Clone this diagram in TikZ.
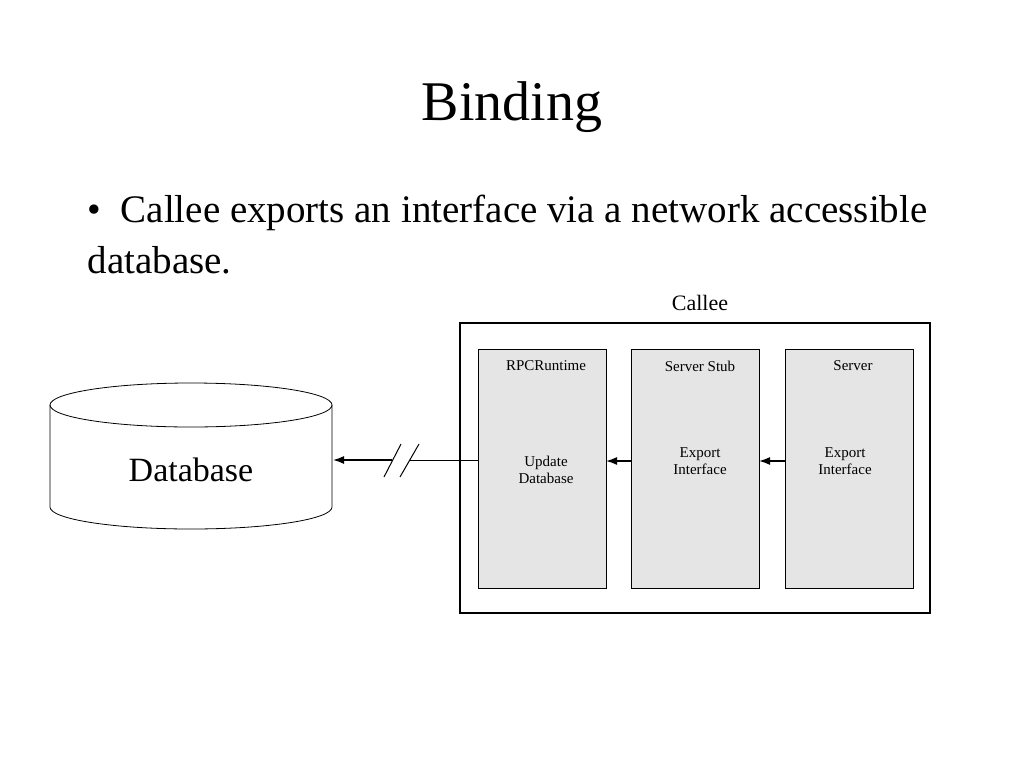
\documentclass[tikz,border=0pt]{standalone}
\usepackage{fontspec}
\setmainfont{Liberation Serif}
\usetikzlibrary{arrows.meta}
\begin{document}
\begin{tikzpicture}[x=1pt,y=-1pt,
  col/.style={draw,fill=black!10,line width=0.6pt},
  small/.style={font=\fontsize{15}{17}\selectfont,align=center},
  arr/.style={-{Latex[length=11pt,width=8pt]},line width=1.5pt}]
\useasboundingbox (0,0) rectangle (1024,768);
\node (title) at (512,107) {\fontsize{56}{62}\selectfont Binding};
\node[anchor=west] (b1) at (84,213) {\fontsize{39}{44}\selectfont •\ \ Callee exports an interface via a network accessible};
\node[anchor=west] (b2) at (84,260) {\fontsize{39}{44}\selectfont database.};
\node (callee) at (700,303) {\fontsize{22}{26}\selectfont Callee};
\draw[line width=2.5pt] (460,323) rectangle (930,613);
\draw[col] (478,349) rectangle (606,588);
\draw[col] (631,349) rectangle (759,588);
\draw[col] (785,349) rectangle (913,588);
\coordinate (r1) at (478,460); \coordinate (r1r) at (606,461);
\coordinate (s1) at (631,461); \coordinate (s1r) at (759,461);
\coordinate (v1) at (785,461);
\node[small] (l1) at (546,366) {RPCRuntime};
\node[small] (l2) at (700,366) {Server Stub};
\node[small] (l3) at (853,366) {Server};
\node[small] (m1) at (546,470) {Update\\Database};
\node[small] (m2) at (700,461) {Export\\Interface};
\node[small] (m3) at (845,461) {Export\\Interface};
% database cylinder
\draw[line width=0.8pt] (50,405) -- (50,507) arc[start angle=180,end angle=0,x radius=141,y radius=22] -- (332,405);
\draw[line width=0.8pt] (191,405) ellipse[x radius=141,y radius=22];
\node (db) at (191,470) {\fontsize{34}{38}\selectfont Database};
\coordinate (dbr) at (333,460);
\coordinate (g1) at (410,460); \coordinate (g2) at (392,460);
\draw[line width=1pt] (r1) -- (g1);
\draw[arr] (g2) -- (dbr);
\draw[line width=1pt] (384,477) -- (401,444) (400,477) -- (419,444);
\draw[arr] (s1) -- (r1r);
\draw[arr] (v1) -- (s1r);
\end{tikzpicture}
\end{document}
